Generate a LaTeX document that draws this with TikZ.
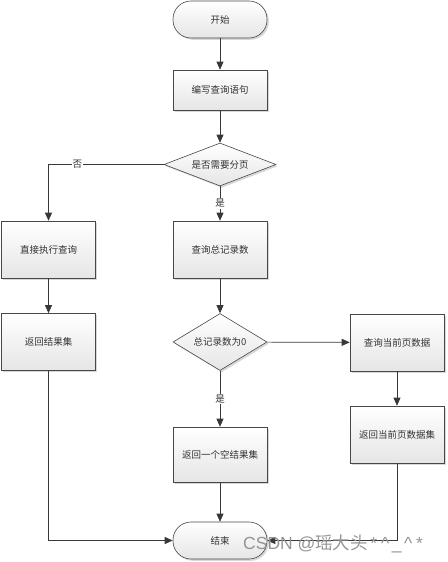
\documentclass[tikz,border=0pt]{standalone}
\usepackage{fontspec}
\setmainfont{Noto Sans CJK SC}
\newfontfamily\wmfont{Liberation Sans}
\newfontfamily\wmcjk{Noto Sans CJK SC}
\usetikzlibrary{shapes.geometric,arrows.meta,shadows}
\newcommand{\wmchar}[1]{\makebox[11.5pt]{#1}}
\begin{document}
\begin{tikzpicture}[x=1pt,y=-1pt,
  base/.style={draw=black!72, line width=0.6pt, top color=white, bottom color=black!10,
    font=\fontsize{9.5}{11}\selectfont, text=black!80, inner sep=0pt,
    drop shadow={shadow xshift=1.8pt, shadow yshift=-1.8pt, fill=black!30, opacity=0.5}},
  procbox/.style={base, rectangle, minimum width=94pt, minimum height=57pt},
  term/.style={base, rectangle, rounded corners=18pt, minimum width=94pt, minimum height=37pt},
  decide/.style={base, diamond},
  arr/.style={draw=black!78, line width=0.7pt, -{Triangle[length=8pt,width=7pt]}},
  lbl/.style={fill=white, inner sep=1pt, font=\fontsize{9.5}{11}\selectfont, text=black!80}
]
\useasboundingbox (0,0) rectangle (447,562);
\node[term] (start) at (220,19.5) {开始};
\node[procbox, minimum height=40pt] (write) at (220,90) {编写查询语句};
\node[decide, minimum width=112pt, minimum height=43pt, aspect=2.6] (d1) at (220,164.5) {是否需要分页};
\node[procbox] (direct) at (48.5,249.5) {直接执行查询};
\node[procbox] (count) at (220,249.5) {查询总记录数};
\node[procbox] (ret) at (48.5,342) {返回结果集};
\node[decide, minimum width=94pt, minimum height=57pt, aspect=1.65] (d2) at (220,342) {总记录数为0};
\node[procbox] (cur) at (397,342.5) {查询当前页数据};
\node[procbox] (retpage) at (397,434.5) {返回当前页数据集};
\node[procbox, minimum height=55pt] (empty) at (220,454.5) {返回一个空结果集};
\node[term] (end) at (220,540.5) {结束};

\draw[arr] (start) -- (write);
\draw[arr] (write) -- (d1);
\draw[arr] (d1.west) -| node[lbl, pos=0.375] {否} (direct);
\draw[arr] (d1) -- node[lbl] {是} (count);
\draw[arr] (direct) -- (ret);
\draw[arr] (count) -- (d2);
\draw[arr] (d2) -- (cur);
\draw[arr] (cur) -- (retpage);
\draw[arr] (d2) -- node[lbl] {是} (empty);
\draw[arr] (empty) -- (end);
\draw[arr] (ret) |- (end);
\draw[arr] (retpage) |- (end);

\node[text=black!42, inner sep=0pt, anchor=west] (wm) at (243,544) {\wmfont\fontsize{17.5}{20}\selectfont CSDN @\wmcjk 瑶大头\wmfont\wmchar{*}\wmchar{\^{}}\wmchar{\_}\wmchar{\^{}}\wmchar{*}};
\end{tikzpicture}
\end{document}
